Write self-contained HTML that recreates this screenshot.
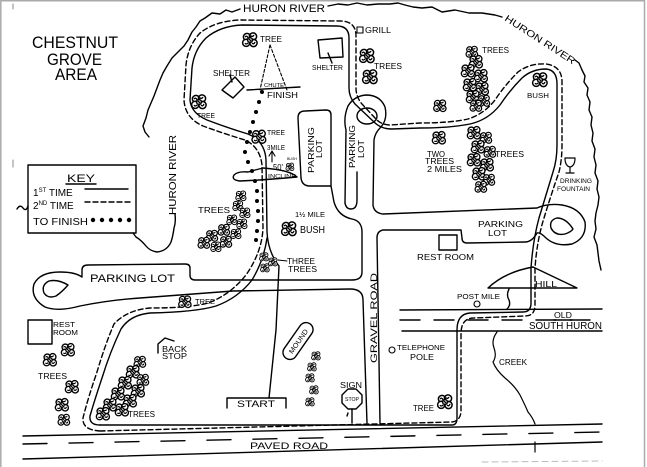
<!DOCTYPE html>
<html><head><meta charset="utf-8">
<style>
html,body{margin:0;padding:0;background:#fff;}
svg{display:block}
text{font-family:"Liberation Sans",sans-serif;fill:#000;}
</style></head><body>
<svg width="647" height="467" viewBox="0 0 647 467" xmlns="http://www.w3.org/2000/svg">
<defs>
<g id="b" fill="#fff" stroke="#000" stroke-width="1.5">
<circle cx="-3" cy="-3" r="3.6"/>
<circle cx="3" cy="-3.5" r="3.6"/>
<circle cx="-3.8" cy="2.8" r="3.6"/>
<circle cx="3.5" cy="3" r="3.6"/>
<circle cx="0" cy="0" r="2.4"/>
<path d="M-5,-3q2,-2 3,1M1,-4q2,1 3,-1M-5,3q1,2 3,0M2,3q2,2 3,-1M-1,-1l2,2M-4,-1l2,1M3,0l2,-1M-1,4l1,-2M0,-5l1,2" fill="none" stroke-width="1.3"/>
</g>
</defs>
<rect width="647" height="467" fill="#fff"/>
<path d="M0.8,467V0.8H644.5V467" stroke="#aaa" stroke-width="1.5" fill="none"/>

<g fill="none" stroke="#000" stroke-width="1.4" stroke-linecap="round" stroke-linejoin="round">
<!-- rivers -->
<polyline points="240,9 232,12 226,10 220,14 212,13 205,18 200,21 196,27 192,32 188,40 184,46 178,52 172,58 167,66 163,73 160,80 157,88 154,96 151,103 148,110 146,118 143,126 145,132 149,137"/>
<path d="M175,214 Q176,222 174,228 Q173,236 171,242 Q167,251 157,252 Q150,251 146,246 Q141,240 136,237 L133,233"/>
<polyline points="328,6 338,4 348,5 357,3 367,5 378,4 390,4 398,3 405,5 413,7 422,8 432,7 442,12 455,10 469,13 482,13 495,15 502,17"/>
<polyline points="575,60 579,63 582,70 585,76 584,82 588,88 587,95 590,102 589,110 592,117 591,125 593,133 592,141 595,149 594,157 596,165 595,173 598,181 597,189 599,197 598,205 596,213 595,221 596,229 594,237 597,245 598,253 599,261 601,270"/>
<path d="M17,209 Q20,204 23,208 Q26,212 28,206"/>
<path d="M13,160 L13,167 M13,4 L13,9" stroke="#888" stroke-width="1"/>

<!-- key box -->
<rect x="28" y="165" width="108" height="68"/>
<line x1="66" y1="184" x2="96" y2="184"/>
<line x1="85" y1="189" x2="128" y2="189"/>
<line x1="85" y1="202" x2="130" y2="202" stroke-dasharray="5,3"/>

<!-- left lot -->
<path d="M301,178 L298,118 Q298,111 305,111 L326,110 Q331,110 331,115 L331,186"/>
<path d="M301,178 Q302,186 310,186 L331,186 L334,202 Q338,216 352,219 Q362,221 362,232 L362,272 Q362,280 352,280 L195,280 Q190,280 190,275 L190,268 Q190,264 185,264 L88,265 Q82,265 82,270 L82,277 Q75,272 60,272 Q40,272 34,284 Q30,298 45,307 Q58,312 80,306 Q110,300 140,298 L233,291 L350,289 Q363,289 363,300 L367,423"/>
<path d="M68,285 Q58,279 49,281 Q41,285 44,293 Q48,299 56,296 Q62,292 68,285 Z"/>

<!-- keyhole lot -->
<path d="M345,203 L346,130 Q343,118 348,106 Q354,96 366,95 Q380,95 385,107 Q388,120 380,128 Q375,133 374,140 L373,205 Q374,213 383,214 L537,208 Q548,203 562,205 Q580,208 585,222 Q587,238 572,244 Q556,247 546,238 Q540,232 537,233 Q532,242 525,242 L467,243 Q462,243 462,238 L461,230 L383,230 Q377,231 377,238 L380,423"/>
<ellipse cx="367" cy="116" rx="10" ry="8"/>
<path d="M345,203 Q346,209 351,209 Q357,209 357,200 L357,172"/>
<path d="M573,229 Q566,218 557,218 Q549,220 551,228 Q555,236 565,234 Q571,232 573,229 Z"/>

<!-- paved road -->
<line x1="23" y1="436" x2="602" y2="424"/>
<line x1="23" y1="459" x2="602" y2="442"/>
<line x1="23" y1="444" x2="602" y2="432" stroke-dasharray="24,22"/>
<line x1="482" y1="462" x2="602" y2="461" stroke="#bbb" stroke-width="1" stroke-dasharray="6,4"/>

<!-- old south huron -->
<line x1="400" y1="310" x2="602" y2="309"/>
<line x1="402" y1="331" x2="602" y2="331"/>
<line x1="400" y1="320" x2="602" y2="320" stroke-dasharray="20,14"/>
<line x1="554" y1="320" x2="572" y2="320"/>

<!-- trails -->
<path stroke-dasharray="5,3" d="M100,431 L452,422 Q460,421 461,412 L461,334 Q461,318 474,318 L525,316 Q535,316 535,305 L535,268 Q537,240 544,218 Q552,192 559,172 Q562,160 562,145 L562,82 Q562,66 546,64 Q530,63 518,72 Q505,85 495,100 Q484,114 468,119 Q450,123 420,123 L390,125 Q381,125 375,118 L362,104 Q356,97 356,88 L356,36 Q356,21 340,21 L240,20 Q215,21 200,33 Q188,46 186,65 L184,100 Q185,118 203,126 Q225,134 245,140 Q260,147 262,165 L263,228 Q262,252 246,275 Q230,295 208,303 Q190,308 150,308 Q127,310 114,324 Q105,345 97,372 Q88,398 83,418 Q82,430 100,431"/>
<path d="M100,425 L452,425 Q457,425 457,418 L457,330 Q457,314 470,313 L523,312 Q531,312 531,303 L531,268 Q533,240 539,218 Q547,192 553,172 Q557,160 557,145 L557,84 Q557,70 546,69 Q532,69 522,78 Q510,90 500,105 Q488,120 470,124 Q450,128 420,128 L392,129 Q381,129 374,122 L355,104 Q349,97 349,88 L349,38 Q349,26 337,26 L242,25 Q220,26 206,38 Q194,50 192,68 L190,100 Q191,113 207,120 Q228,128 248,134 Q265,141 266,160 L267,232 Q268,252 279,266 L276,330 L269,398"/>
<path d="M267,238 Q264,260 252,280 Q238,298 216,306 Q196,312 150,313 Q130,315 121,329 Q110,352 102,378 Q94,402 90,416 Q89,425 100,425"/>

<!-- start box -->
<path d="M227,408 L227,398 L286,398 L286,408"/>
<!-- chute & finish -->
<path d="M270,45 L260,90 M270,45 L287,90" stroke-dasharray="3,2" stroke-width="1.1"/>
<line x1="247" y1="90" x2="300" y2="87"/>
<!-- shelters -->
<path d="M235,77 L244,87 L233,98 L222,90 Z"/>
<path d="M230,75 L232,82"/>
<path d="M318,40 L342,38 L343,57 L320,58 Z"/>
<path d="M328,53 L332,63"/>
<rect x="357" y="27" width="6" height="6" stroke-width="1.1"/>
<!-- incline shape -->
<path d="M297,177 Q290,170 263,168 Q255,170 248,172 Q238,171 234,175 Q231,180 240,181 Q265,180 297,177"/>
<path d="M272,162 L272,152 M269,156 L272,151 L275,156" stroke-width="1.1"/>
<!-- fountain -->
<path d="M565,158 L575,158 Q575,166 570,167 Q565,166 565,158 Z M570,167 L570,172 M566,173 L574,173" stroke-width="1.2"/>
<!-- restrooms -->
<rect x="28" y="320" width="24" height="24"/>
<rect x="439" y="235" width="18" height="15"/>
<!-- hill -->
<path d="M488,288 Q505,272 533,267 L577,288 Z"/>
<path d="M509,289 Q506,295 509,300 Q511,305 507,309"/>
<circle cx="477" cy="304" r="3" stroke-width="1.1"/>
<circle cx="392" cy="350" r="3" stroke-width="1.1"/>
<!-- creek -->
<path d="M497,332 Q491,340 494,348 Q497,356 493,362 Q496,370 505,378 Q515,386 520,395 Q525,405 528,412 Q533,418 535,424 M535,442 L535,452" stroke-width="1.2"/>
<!-- backstop -->
<path d="M158,353 L158,344 L165,338 L174,341"/>
<!-- mound -->
<g transform="translate(298,341) rotate(-55)"><rect x="-21" y="-7" width="42" height="14" rx="7"/></g>
<!-- stop sign -->
<polygon points="348,389 356,389 362,395 362,403 356,409 348,409 342,403 342,395"/>
<path d="M352,409 L352,423 M348,413 L347,416"/>
<!-- label leaders -->
<path d="M278,260 L287,261" stroke-width="1"/>
</g>

<!-- finish dots -->
<g fill="#000">
<circle cx="262" cy="92" r="2"/><circle cx="259" cy="102" r="2"/><circle cx="256" cy="112" r="2"/><circle cx="253" cy="122" r="2"/><circle cx="250" cy="132" r="2"/><circle cx="247" cy="142" r="2"/><circle cx="245" cy="152" r="2"/><circle cx="248" cy="162" r="2"/><circle cx="252" cy="171" r="2"/><circle cx="255" cy="181" r="2"/><circle cx="257" cy="191" r="2"/><circle cx="257" cy="201" r="2"/><circle cx="258" cy="211" r="2"/><circle cx="258" cy="221" r="2"/><circle cx="257" cy="231" r="2"/><circle cx="256" cy="240" r="2"/>
<circle cx="93" cy="220" r="2.2"/><circle cx="102" cy="220" r="2.2"/><circle cx="111" cy="220" r="2.2"/><circle cx="120" cy="220" r="2.2"/><circle cx="129" cy="220" r="2.2"/>
</g>

<!-- trees -->
<use href="#b" transform="translate(250,40)"/>
<use href="#b" transform="translate(199,102)"/>
<use href="#b" transform="translate(259,137) scale(0.95)"/>
<use href="#b" transform="translate(367,56)"/>
<use href="#b" transform="translate(370,77)"/>
<use href="#b" transform="translate(472,52) scale(0.8)"/>
<use href="#b" transform="translate(476,62) scale(0.9)"/>
<use href="#b" transform="translate(468,71) scale(0.9)"/>
<use href="#b" transform="translate(481,76) scale(0.9)"/>
<use href="#b" transform="translate(470,85) scale(0.9)"/>
<use href="#b" transform="translate(482,89) scale(0.9)"/>
<use href="#b" transform="translate(473,97) scale(0.9)"/>
<use href="#b" transform="translate(484,101) scale(0.8)"/>
<use href="#b" transform="translate(476,106) scale(0.8)"/>
<use href="#b" transform="translate(440,106) scale(0.85)"/>
<use href="#b" transform="translate(540,80)"/>
<use href="#b" transform="translate(439,138) scale(0.9)"/>
<use href="#b" transform="translate(474,133) scale(0.9)"/>
<use href="#b" transform="translate(486,138) scale(0.8)"/>
<use href="#b" transform="translate(478,147) scale(0.9)"/>
<use href="#b" transform="translate(490,152) scale(0.8)"/>
<use href="#b" transform="translate(474,160) scale(0.9)"/>
<use href="#b" transform="translate(487,165) scale(0.9)"/>
<use href="#b" transform="translate(479,174) scale(0.9)"/>
<use href="#b" transform="translate(489,180) scale(0.8)"/>
<use href="#b" transform="translate(481,187) scale(0.8)"/>
<use href="#b" transform="translate(290,167) scale(0.55)"/>
<use href="#b" transform="translate(289,229)"/>
<use href="#b" transform="translate(264,257) scale(0.6)"/>
<use href="#b" transform="translate(273,262) scale(0.6)"/>
<use href="#b" transform="translate(265,268) scale(0.6)"/>
<use href="#b" transform="translate(241,196) scale(0.7)"/>
<use href="#b" transform="translate(238,206) scale(0.7)"/>
<use href="#b" transform="translate(245,213) scale(0.7)"/>
<use href="#b" transform="translate(232,220) scale(0.7)"/>
<use href="#b" transform="translate(242,224) scale(0.7)"/>
<use href="#b" transform="translate(224,230) scale(0.8)"/>
<use href="#b" transform="translate(236,234) scale(0.7)"/>
<use href="#b" transform="translate(212,236) scale(0.8)"/>
<use href="#b" transform="translate(226,242) scale(0.8)"/>
<use href="#b" transform="translate(204,243) scale(0.8)"/>
<use href="#b" transform="translate(216,247) scale(0.7)"/>
<use href="#b" transform="translate(185,302) scale(0.85)"/>
<use href="#b" transform="translate(50,360) scale(0.9)"/>
<use href="#b" transform="translate(68,350) scale(0.9)"/>
<use href="#b" transform="translate(72,387) scale(0.9)"/>
<use href="#b" transform="translate(62,405) scale(0.9)"/>
<use href="#b" transform="translate(64,420) scale(0.8)"/>
<use href="#b" transform="translate(140,362) scale(0.8)"/>
<use href="#b" transform="translate(133,372) scale(0.9)"/>
<use href="#b" transform="translate(143,380) scale(0.8)"/>
<use href="#b" transform="translate(125,383) scale(0.9)"/>
<use href="#b" transform="translate(138,391) scale(0.9)"/>
<use href="#b" transform="translate(118,394) scale(0.9)"/>
<use href="#b" transform="translate(130,401) scale(0.9)"/>
<use href="#b" transform="translate(110,405) scale(0.9)"/>
<use href="#b" transform="translate(122,410) scale(0.9)"/>
<use href="#b" transform="translate(103,414) scale(0.9)"/>
<use href="#b" transform="translate(316,356) scale(0.6)"/>
<use href="#b" transform="translate(312,367) scale(0.6)"/>
<use href="#b" transform="translate(310,378) scale(0.6)"/>
<use href="#b" transform="translate(314,390) scale(0.6)"/>
<use href="#b" transform="translate(310,402) scale(0.6)"/>
<use href="#b" transform="translate(445,402)"/>

<!-- text -->
<g>
<text x="32" y="48" font-size="17" textLength="86" lengthAdjust="spacingAndGlyphs">CHESTNUT</text>
<text x="47" y="65" font-size="17" textLength="55" lengthAdjust="spacingAndGlyphs">GROVE</text>
<text x="55" y="80" font-size="17" textLength="42" lengthAdjust="spacingAndGlyphs">AREA</text>
<text x="243" y="12" font-size="11" textLength="82" lengthAdjust="spacingAndGlyphs">HURON RIVER</text>
<text transform="translate(504,20) rotate(33)" font-size="9.5" textLength="82" lengthAdjust="spacingAndGlyphs">HURON RIVER</text>
<text transform="translate(176,215) rotate(-90)" font-size="10" textLength="80" lengthAdjust="spacingAndGlyphs">HURON RIVER</text>
<text x="67" y="182" font-size="11" textLength="28" lengthAdjust="spacingAndGlyphs">KEY</text>
<text x="33" y="196" font-size="10">1<tspan font-size="6" dy="-4">ST</tspan><tspan dy="4"> TIME</tspan></text>
<text x="33" y="209" font-size="10">2<tspan font-size="6" dy="-4">ND</tspan><tspan dy="4"> TIME</tspan></text>
<text x="33" y="225" font-size="10" textLength="55" lengthAdjust="spacingAndGlyphs">TO FINISH</text>
<text x="213" y="76" font-size="8.5" textLength="37" lengthAdjust="spacingAndGlyphs">SHELTER</text>
<text x="260" y="42" font-size="8" textLength="22" lengthAdjust="spacingAndGlyphs">TREE</text>
<text x="264" y="87" font-size="5" textLength="20" lengthAdjust="spacingAndGlyphs">CHUTE</text>
<text x="267" y="98" font-size="8.5" textLength="31" lengthAdjust="spacingAndGlyphs">FINISH</text>
<text x="312" y="70" font-size="7.5" textLength="31" lengthAdjust="spacingAndGlyphs">SHELTER</text>
<text x="365" y="33" font-size="8" textLength="26" lengthAdjust="spacingAndGlyphs">GRILL</text>
<text x="374" y="69" font-size="8.5" textLength="28" lengthAdjust="spacingAndGlyphs">TREES</text>
<text x="482" y="53" font-size="8.5" textLength="27" lengthAdjust="spacingAndGlyphs">TREES</text>
<text x="527" y="98" font-size="7.5" textLength="22" lengthAdjust="spacingAndGlyphs">BUSH</text>
<text x="197" y="118" font-size="7.5" textLength="18" lengthAdjust="spacingAndGlyphs">TREE</text>
<text x="267" y="135" font-size="7" textLength="18" lengthAdjust="spacingAndGlyphs">TREE</text>
<text x="267" y="150" font-size="7" textLength="18" lengthAdjust="spacingAndGlyphs">3MILE</text>
<text x="273" y="170" font-size="8" textLength="10" lengthAdjust="spacingAndGlyphs">50'</text>
<text x="287" y="160" font-size="4" textLength="10" lengthAdjust="spacingAndGlyphs">BUSH</text>
<text x="268" y="178" font-size="5" textLength="28" lengthAdjust="spacingAndGlyphs">INCLINE</text>
<text transform="translate(314,173) rotate(-90)" font-size="8.5" textLength="46" lengthAdjust="spacingAndGlyphs">PARKING</text>
<text transform="translate(322,158) rotate(-90)" font-size="8.5" textLength="18" lengthAdjust="spacingAndGlyphs">LOT</text>
<text transform="translate(355,168) rotate(-90)" font-size="8.5" textLength="43" lengthAdjust="spacingAndGlyphs">PARKING</text>
<text transform="translate(364,158) rotate(-90)" font-size="8.5" textLength="18" lengthAdjust="spacingAndGlyphs">LOT</text>
<text x="427" y="157" font-size="8" textLength="18" lengthAdjust="spacingAndGlyphs">TWO</text>
<text x="425" y="164" font-size="8" textLength="29" lengthAdjust="spacingAndGlyphs">TREES</text>
<text x="427" y="172" font-size="8" textLength="35" lengthAdjust="spacingAndGlyphs">2 MILES</text>
<text x="495" y="157" font-size="8.5" textLength="29" lengthAdjust="spacingAndGlyphs">TREES</text>
<text x="560" y="183" font-size="6" textLength="32" lengthAdjust="spacingAndGlyphs">DRINKING</text>
<text x="557" y="191" font-size="6" textLength="33" lengthAdjust="spacingAndGlyphs">FOUNTAIN</text>
<text x="295" y="217" font-size="7.5" textLength="30" lengthAdjust="spacingAndGlyphs">1½ MILE</text>
<text x="300" y="233" font-size="10" textLength="25" lengthAdjust="spacingAndGlyphs">BUSH</text>
<text x="287" y="264" font-size="8" textLength="28" lengthAdjust="spacingAndGlyphs">THREE</text>
<text x="288" y="272" font-size="8" textLength="29" lengthAdjust="spacingAndGlyphs">TREES</text>
<text x="198" y="213" font-size="8.5" textLength="32" lengthAdjust="spacingAndGlyphs">TREES</text>
<text x="478" y="227" font-size="8.5" textLength="45" lengthAdjust="spacingAndGlyphs">PARKING</text>
<text x="488" y="236" font-size="8.5" textLength="19" lengthAdjust="spacingAndGlyphs">LOT</text>
<text x="417" y="260" font-size="8.5" textLength="57" lengthAdjust="spacingAndGlyphs">REST ROOM</text>
<text x="535" y="287" font-size="8" textLength="22" lengthAdjust="spacingAndGlyphs">HILL</text>
<text x="457" y="299" font-size="7" textLength="43" lengthAdjust="spacingAndGlyphs">POST MILE</text>
<text x="554" y="318" font-size="8" textLength="18" lengthAdjust="spacingAndGlyphs">OLD</text>
<text x="529" y="329" font-size="10" textLength="73" lengthAdjust="spacingAndGlyphs">SOUTH HURON</text>
<text x="90" y="282" font-size="11" textLength="85" lengthAdjust="spacingAndGlyphs">PARKING LOT</text>
<text x="195" y="304" font-size="7.5" textLength="20" lengthAdjust="spacingAndGlyphs">TREE</text>
<text x="53" y="327" font-size="7.5" textLength="22" lengthAdjust="spacingAndGlyphs">REST</text>
<text x="53" y="335" font-size="7.5" textLength="25" lengthAdjust="spacingAndGlyphs">ROOM</text>
<text x="38" y="379" font-size="8" textLength="29" lengthAdjust="spacingAndGlyphs">TREES</text>
<text x="162" y="352" font-size="8" textLength="25" lengthAdjust="spacingAndGlyphs">BACK</text>
<text x="162" y="359" font-size="8" textLength="25" lengthAdjust="spacingAndGlyphs">STOP</text>
<text x="128" y="417" font-size="8" textLength="27" lengthAdjust="spacingAndGlyphs">TREES</text>
<text transform="translate(298,341) rotate(-55)" x="-14" y="3" font-size="7" textLength="28" lengthAdjust="spacingAndGlyphs">MOUND</text>
<text x="237" y="407" font-size="9.5" textLength="38" lengthAdjust="spacingAndGlyphs">START</text>
<text x="340" y="388" font-size="8" textLength="22" lengthAdjust="spacingAndGlyphs">SIGN</text>
<text x="345" y="401" font-size="5" textLength="14" lengthAdjust="spacingAndGlyphs">STOP</text>
<text transform="translate(377,363) rotate(-90)" font-size="9.5" textLength="90" lengthAdjust="spacingAndGlyphs">GRAVEL ROAD</text>
<text x="397" y="350" font-size="7.5" textLength="48" lengthAdjust="spacingAndGlyphs">TELEPHONE</text>
<text x="410" y="360" font-size="8" textLength="24" lengthAdjust="spacingAndGlyphs">POLE</text>
<text x="499" y="365" font-size="8" textLength="28" lengthAdjust="spacingAndGlyphs">CREEK</text>
<text x="413" y="411" font-size="8" textLength="21" lengthAdjust="spacingAndGlyphs">TREE</text>
<text x="250" y="449" font-size="9.5" textLength="78" lengthAdjust="spacingAndGlyphs">PAVED ROAD</text>
</g>
</svg>
</body></html>
